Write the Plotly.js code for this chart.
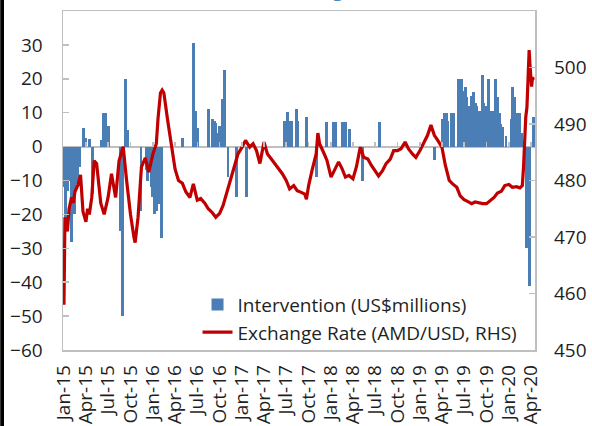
<!DOCTYPE html>
<html>
<head>
<meta charset="utf-8">
<script src="https://cdn.plot.ly/plotly-3.0.1.min.js"></script>
<style>
  html, body { margin: 0; padding: 0; background: #ffffff; }
  #chart { width: 592px; height: 426px; }
</style>
</head>
<body>
<div id="chart"></div>
<script>
// ---- Data ----
const tickDates = ['2015-01-01','2015-04-01','2015-07-01','2015-10-01','2016-01-01','2016-04-01','2016-07-01','2016-10-01',
  '2017-01-01','2017-04-01','2017-07-01','2017-10-01','2018-01-01','2018-04-01','2018-07-01','2018-10-01',
  '2019-01-01','2019-04-01','2019-07-01','2019-10-01','2020-01-01','2020-04-01'];
const tickLabels = ['Jan-15','Apr-15','Jul-15','Oct-15','Jan-16','Apr-16','Jul-16','Oct-16',
  'Jan-17','Apr-17','Jul-17','Oct-17','Jan-18','Apr-18','Jul-18','Oct-18',
  'Jan-19','Apr-19','Jul-19','Oct-19','Jan-20','Apr-20'];

// Intervention, US$ millions (left axis)
const barDates = [
  '2015-01-02','2015-01-09','2015-01-16','2015-01-23','2015-01-30','2015-02-06','2015-02-13','2015-02-20','2015-02-27','2015-03-06',
  '2015-03-24','2015-04-01','2015-04-15','2015-04-28',
  '2015-06-05','2015-06-12','2015-06-19','2015-06-26','2015-07-03',
  '2015-08-21','2015-08-28','2015-09-11','2015-09-18',
  '2015-11-13','2015-12-04','2015-12-11','2015-12-18','2015-12-25','2016-01-01','2016-01-08','2016-01-15','2016-01-22','2016-02-05',
  '2016-05-02','2016-06-17','2016-06-24','2016-07-01','2016-08-16',
  '2016-09-02','2016-09-09','2016-09-16','2016-09-23','2016-09-30','2016-10-14','2016-10-21',
  '2016-11-04','2016-12-09','2017-01-19',
  '2017-06-23','2017-06-30','2017-07-07','2017-07-14','2017-07-21','2017-08-11','2017-08-18','2017-09-22',
  '2017-11-01','2017-12-13','2018-01-12','2018-01-19','2018-02-16','2018-02-23','2018-03-02','2018-03-16',
  '2018-05-11','2018-07-20','2019-03-01',
  '2019-04-05','2019-04-12','2019-04-19','2019-04-26','2019-05-10','2019-05-17',
  '2019-06-07','2019-06-14','2019-06-21','2019-06-28','2019-07-05','2019-07-12','2019-07-19',
  '2019-08-02','2019-08-09','2019-08-16','2019-08-23','2019-08-30','2019-09-06','2019-09-13','2019-09-20','2019-09-27',
  '2019-10-04','2019-10-11','2019-10-18','2019-10-25','2019-11-01','2019-11-08','2019-11-15','2019-11-22','2019-11-29',
  '2019-12-06','2019-12-20','2020-01-10','2020-01-17','2020-01-24','2020-01-31','2020-02-07','2020-02-14','2020-02-21',
  '2020-03-13','2020-03-24','2020-04-10'
];
const barValues = [
  -12,-25,-13,-10,-28,-13,-20,-11,-10,-6,
  5.5,2.5,2.3,-14,
  2,10,10,6,6,
  -25,-50,20,5,
  -19,-7,-10,-5,-12,-15,-20,-19,-17,-27,
  2.5,30.5,10.5,5.5,11,
  8,7.5,7,4,6,14,22.5,
  -9,-15,-15,
  7.7,7.7,10.2,7.7,7.7,11.1,7.7,8.8,
  -9,7.2,7.2,7.2,7.2,7.2,7.2,5.3,
  -10,7.2,-4,
  8,10,10,7.7,10,10,
  20,17.6,20,16.5,17.5,14.6,12,
  15,16,13,12,10.6,10.6,21,13,12,
  11,20,10.6,10.6,8,20,14.6,10,6.7,
  5.7,3,8,17.7,14.6,5,10,10,4,
  -30,-41,8.6
];

// Exchange rate, AMD per USD (right axis)
const rateDates = [
  '2015-01-01','2015-01-05','2015-01-10','2015-01-15','2015-01-22','2015-02-01','2015-02-08','2015-02-15','2015-03-01','2015-03-10','2015-03-20',
  '2015-04-01','2015-04-08','2015-04-15','2015-04-25','2015-05-05','2015-05-15','2015-06-01','2015-06-15','2015-07-01','2015-07-15','2015-08-01',
  '2015-08-15','2015-09-01','2015-09-15','2015-10-01','2015-10-15','2015-10-20','2015-11-01','2015-11-15','2015-12-01','2015-12-15',
  '2016-01-01','2016-01-15','2016-01-22','2016-02-01','2016-02-08','2016-02-15','2016-03-01','2016-03-15','2016-04-01','2016-04-15',
  '2016-05-01','2016-05-15','2016-06-01','2016-06-15','2016-07-01','2016-07-15','2016-08-01','2016-08-15','2016-09-01','2016-09-15',
  '2016-10-01','2016-10-15','2016-11-01','2016-11-15','2016-12-01','2016-12-15','2017-01-01','2017-01-15','2017-02-01','2017-02-15',
  '2017-03-01','2017-03-15','2017-04-01','2017-04-15','2017-05-01','2017-05-15','2017-06-01','2017-06-15','2017-07-01','2017-07-15',
  '2017-08-01','2017-08-15','2017-09-01','2017-09-15','2017-09-22','2017-10-01','2017-10-15','2017-11-01','2017-11-08','2017-11-15',
  '2017-12-01','2017-12-15','2018-01-01','2018-01-15','2018-02-01','2018-02-15','2018-03-01','2018-03-15','2018-04-01','2018-04-15',
  '2018-05-01','2018-05-15','2018-06-01','2018-06-15','2018-07-01','2018-07-15','2018-08-01','2018-08-15','2018-09-01','2018-09-15',
  '2018-10-01','2018-10-15','2018-11-01','2018-11-15','2018-12-01','2018-12-15','2019-01-01','2019-01-15','2019-02-01','2019-02-15',
  '2019-03-01','2019-03-15','2019-04-01','2019-04-15','2019-05-01','2019-05-15','2019-06-01','2019-06-15','2019-07-01','2019-07-15',
  '2019-08-01','2019-08-15','2019-09-01','2019-09-15','2019-10-01','2019-10-15','2019-11-01','2019-11-15','2019-12-01','2019-12-15',
  '2020-01-01','2020-01-15','2020-02-01','2020-02-15','2020-02-25','2020-03-01','2020-03-05','2020-03-10','2020-03-15','2020-03-18',
  '2020-03-21','2020-03-24','2020-03-27','2020-03-30','2020-04-03','2020-04-07','2020-04-10'
];
const rateValues = [
  458,473.5,472,471,475,477,476,478,479.4,481,474.5,
  472.7,475,474,477,483.5,483,476,474,477,481.2,477,
  483.5,486,480,474,470,469,473.5,482.4,484,481.5,
  484.7,486.5,491,495.5,496,495.5,490.8,487,482,480,
  479.5,478,477,479.4,476.5,476.8,476,475,474.3,473.5,
  474.2,475.6,478.2,480.3,482.7,484.7,485.9,487.1,485.9,486.5,
  485.3,483,486.8,484.7,483.8,483,482.1,481.2,480,478.5,
  479.1,478.2,477.9,477.6,476.7,479.1,481.8,484.7,488.4,486.5,
  485,483.6,480.6,481.8,483.3,482.1,480.6,480.9,480.3,482.4,
  485.9,484.1,483.8,482.7,481.8,480.8,481.8,483,483.8,485.3,
  485.3,485.6,486.8,485.6,484.7,484.1,485.3,486.5,488,489.8,
  488,487.1,485.9,482.7,480,479.4,478.8,477.3,476.6,476.3,
  475.9,476.2,476,475.9,475.9,476.4,477,477.8,478.1,479.1,
  479.3,478.8,478.9,478.7,479.1,482.4,487.7,491.2,493,498.3,
  502.5,503.1,500.7,498.9,496.6,498.3,497.8
];

const seriesNames = ['Intervention (US$millions)', 'Exchange Rate (AMD/USD, RHS)'];
const titleText = 'Intervention and Exchange Rate';

// ---- Chart ----
const FONT = 'Open Sans, Noto Sans, sans-serif';
const TXT = '#1f1f1f';
const GRID = '#bfbfbf';
const xRange = ['2014-12-28', '2020-04-17'];
const DAY = 86400000;

const traces = [
  {
    type: 'bar',
    name: seriesNames[0],
    x: barDates,
    y: barValues,
    width: barDates.map(() => 12 * DAY),
    marker: { color: '#4a7eb4', line: { width: 0 } },
    xaxis: 'x',
    yaxis: 'y',
    hoverinfo: 'x+y'
  },
  {
    type: 'scatter',
    mode: 'lines',
    name: seriesNames[1],
    x: rateDates,
    y: rateValues,
    line: { color: '#c00000', width: 3.2 },
    xaxis: 'x2',
    yaxis: 'y2'
  }
];

const layout = {
  width: 592,
  height: 426,
  margin: { l: 63, r: 57, t: 11, b: 76, pad: 0 },
  paper_bgcolor: '#ffffff',
  plot_bgcolor: '#ffffff',
  font: { family: FONT, size: 19, color: TXT },
  showlegend: true,
  bargap: 0,
  legend: {
    x: 0.285, xanchor: 'left',
    y: 0.19, yanchor: 'top',
    bgcolor: 'rgba(255,255,255,0)',
    font: { family: FONT, size: 19, color: TXT },
    traceorder: 'normal',
    tracegroupgap: 0
  },
  xaxis: {
    type: 'date',
    range: xRange,
    tickvals: tickDates,
    ticktext: tickLabels,
    tickangle: -90,
    ticks: '',
    showgrid: false,
    zeroline: false,
    showline: true,
    mirror: true,
    linecolor: GRID,
    linewidth: 1.5,
    ticklabelstandoff: 6,
    tickfont: { family: FONT, size: 19, color: TXT },
    fixedrange: true
  },
  xaxis2: {
    type: 'date',
    range: xRange,
    overlaying: 'x',
    anchor: 'free',
    position: 0.6,
    side: 'bottom',
    tickvals: tickDates,
    showticklabels: false,
    ticks: 'inside',
    ticklen: 5,
    tickwidth: 1.5,
    tickcolor: GRID,
    showline: false,
    showgrid: false,
    zeroline: false,
    fixedrange: true
  },
  yaxis: {
    range: [-60, 40],
    dtick: 10,
    tick0: 0,
    ticks: 'inside',
    ticklen: 6,
    tickwidth: 1.5,
    tickcolor: GRID,
    showgrid: false,
    showline: true,
    mirror: true,
    linecolor: GRID,
    linewidth: 1.5,
    zeroline: true,
    zerolinecolor: GRID,
    zerolinewidth: 2,
    ticklabelstandoff: 15,
    tickfont: { family: FONT, size: 19, color: TXT },
    fixedrange: true
  },
  yaxis2: {
    range: [450, 510],
    dtick: 10,
    tick0: 450,
    overlaying: 'y',
    anchor: 'x2',
    side: 'right',
    ticks: 'inside',
    ticklen: 6,
    tickwidth: 1.5,
    tickcolor: GRID,
    showgrid: false,
    showline: false,
    zeroline: false,
    ticklabelstandoff: 18,
    tickfont: { family: FONT, size: 19, color: TXT },
    fixedrange: true
  },
  annotations: [
    {
      text: '<b>' + titleText + '</b>',
      xref: 'paper', yref: 'paper',
      x: 0.7246, xanchor: 'right',
      y: 1.021, yanchor: 'bottom',
      showarrow: false,
      font: { family: FONT, size: 19, color: '#4a86c0' }
    }
  ],
  shapes: [
    {
      type: 'rect', xref: 'paper', yref: 'paper', layer: 'above',
      x0: -0.1330, x1: -0.1250, y0: -0.25, y1: 1.05,
      fillcolor: '#000000', line: { width: 0 }
    }
  ]
};

Plotly.newPlot('chart', traces, layout, { displayModeBar: false, staticPlot: true });
</script>
</body>
</html>
